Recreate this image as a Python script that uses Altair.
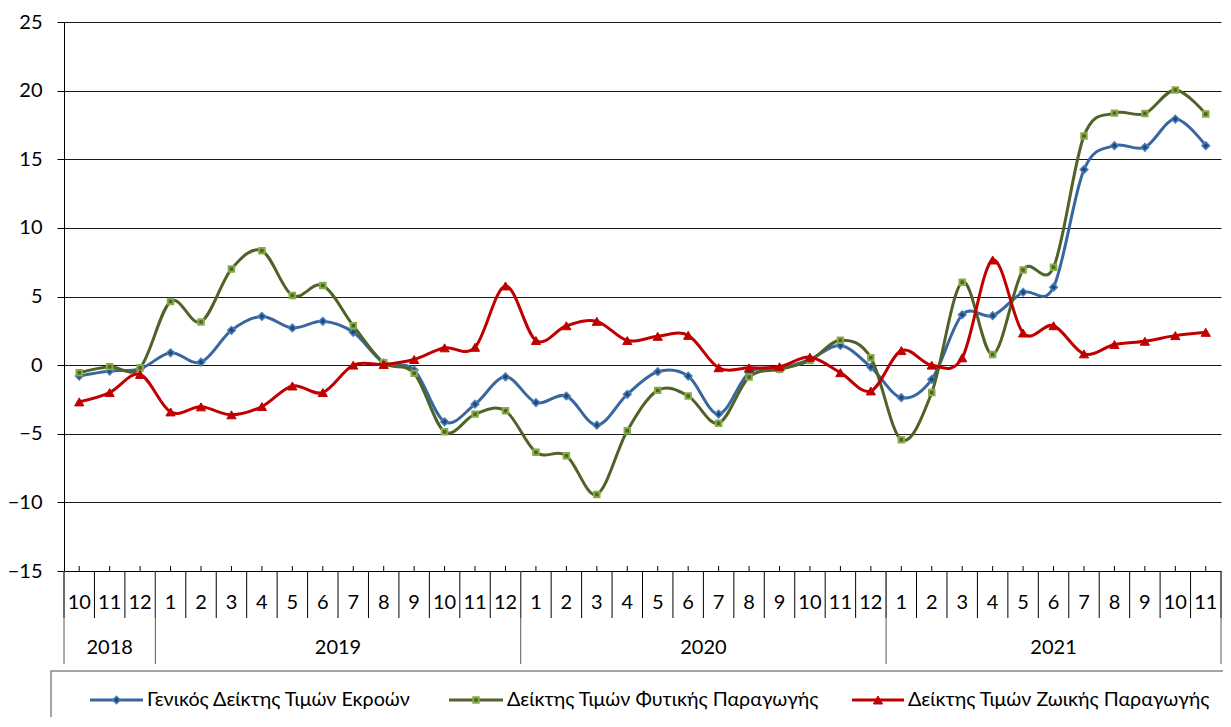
import altair as alt
import pandas as pd

# ---------------- data ----------------
months = ["10", "11", "12",
          "1", "2", "3", "4", "5", "6", "7", "8", "9", "10", "11", "12",
          "1", "2", "3", "4", "5", "6", "7", "8", "9", "10", "11", "12",
          "1", "2", "3", "4", "5", "6", "7", "8", "9", "10", "11"]
years = ["2018"] * 3 + ["2019"] * 12 + ["2020"] * 12 + ["2021"] * 11

series_names = ["Γενικός Δείκτης Τιμών Εκροών",
                "Δείκτης Τιμών Φυτικής Παραγωγής",
                "Δείκτης Τιμών Ζωικής Παραγωγής"]

general = [-0.80, -0.43, -0.27,
           0.90, 0.22, 2.54, 3.55, 2.71, 3.19, 2.39, 0.17, -0.36, -4.13, -2.85, -0.85,
           -2.73, -2.25, -4.37, -2.13, -0.48, -0.80, -3.57, -0.55, -0.27, 0.41, 1.43, -0.14,
           -2.37, -1.04, 3.67, 3.60, 5.31, 5.68, 14.25, 15.99, 15.87, 17.93, 15.99]
crop = [-0.55, -0.12, -0.19,
        4.64, 3.14, 7.00, 8.33, 5.07, 5.80, 2.87, 0.17, -0.60, -4.86, -3.57, -3.33,
        -6.35, -6.60, -9.42, -4.78, -1.84, -2.25, -4.23, -0.87, -0.31, 0.34, 1.81, 0.53,
        -5.43, -2.00, 6.04, 0.77, 6.93, 7.13, 16.70, 18.36, 18.33, 20.05, 18.30]
animal = [-2.68, -2.00, -0.68,
          -3.41, -3.04, -3.62, -3.02, -1.52, -2.00, 0.00, 0.05, 0.41, 1.26, 1.30, 5.77,
          1.79, 2.87, 3.19, 1.79, 2.10, 2.17, -0.19, -0.20, -0.12, 0.58, -0.55, -1.88,
          1.06, 0.00, 0.53, 7.66, 2.34, 2.87, 0.82, 1.50, 1.74, 2.15, 2.39]

y_ticks = [-15, -10, -5, 0, 5, 10, 15, 20, 25]

# ---------------- layout / style ----------------
W, H = 1157, 549
TOP = 14
FONT = "Lato"
n = len(months)
idx = list(range(n))

xs = alt.Scale(domain=[-0.5, n - 0.5], nice=False, zero=False)
ys = alt.Scale(domain=[-15, 25], nice=False, zero=False)

styles = [
    dict(line="#3867A0", shape="diamond", fill="#1F497D", stroke="#4A7EBB", size=58, sw=1.5),
    dict(line="#4F6228", shape="square", fill="#4F6228", stroke="#86AC46", size=30, sw=2),
    dict(line="#C00000", shape="triangle-up", fill="#C00000", stroke="#C00000", size=85, sw=1),
]
values_by_series = [general, crop, animal]

y_axis = alt.Axis(values=y_ticks, title=None, grid=True, gridColor="#1a1a1a", gridWidth=1,
                  domain=True, domainColor="#000000", domainWidth=1,
                  ticks=True, tickSize=7, tickColor="#000000", tickWidth=1,
                  labelFont=FONT, labelFontSize=20, labelColor="#000000", labelPadding=15)
x_axis = alt.Axis(title=None, grid=False, labels=False, ticks=False,
                  domain=True, domainColor="#000000", domainWidth=1)


def X(field):
    return alt.X(field, scale=xs, axis=x_axis, title=None)


def Y(field):
    return alt.Y(field, scale=ys, axis=y_axis, title=None)


# series lines + markers
series_layers = []
for i, name in enumerate(series_names):
    st = styles[i]
    df = pd.DataFrame({"idx": idx, "value": values_by_series[i], "series": name})
    series_layers.append(
        alt.Chart(df).mark_line(color=st["line"], strokeWidth=3, interpolate="cardinal").encode(
            x=X("idx:Q"), y=Y("value:Q"))
    )
    series_layers.append(
        alt.Chart(df).mark_point(shape=st["shape"], filled=True, fill=st["fill"], stroke=st["stroke"],
                                 strokeWidth=st["sw"], size=st["size"], opacity=1).encode(
            x=X("idx:Q"), y=Y("value:Q"))
    )

axis_layers = []
# month tick marks (small, inside) at category centres
ticks_df = pd.DataFrame({"idx": idx})
axis_layers.append(
    alt.Chart(ticks_df).mark_rule(color="#000000", strokeWidth=1).encode(
        x=X("idx:Q"), y=alt.value(H - 5), y2=alt.value(H))
)

# month separators
bounds_df = pd.DataFrame({"idx": [i - 0.5 for i in range(n + 1)]})
axis_layers.append(
    alt.Chart(bounds_df).mark_rule(color="#000000", strokeWidth=1).encode(
        x=X("idx:Q"), y=alt.value(H), y2=alt.value(H + 47))
)

# year separators
ybounds = [-0.5] + [i - 0.5 for i in range(1, n) if years[i] != years[i - 1]] + [n - 0.5]
ybounds_df = pd.DataFrame({"idx": ybounds})
axis_layers.append(
    alt.Chart(ybounds_df).mark_rule(color="#595959", strokeWidth=1).encode(
        x=X("idx:Q"), y=alt.value(H), y2=alt.value(H + 93))
)

# month labels
months_df = pd.DataFrame({"idx": idx, "m": months})
axis_layers.append(
    alt.Chart(months_df).mark_text(font=FONT, fontSize=20, color="#000000",
                                   align="center", baseline="middle").encode(
        x=X("idx:Q"), y=alt.value(H + 32), text="m:N")
)

# year labels
yr_df = pd.DataFrame({"idx": idx, "year": years}).groupby("year", as_index=False)["idx"].mean()
axis_layers.append(
    alt.Chart(yr_df).mark_text(font=FONT, fontSize=20, color="#000000",
                               align="center", baseline="middle").encode(
        x=X("idx:Q"), y=alt.value(H + 77), text="year:N")
)

layers = series_layers + axis_layers

# legend box
layers.append(
    alt.Chart(alt.Data(values=[{"k": 1}])).mark_rect(fill="#ffffff", stroke="#868686", strokeWidth=1.5).encode(
        x=alt.value(-13), x2=alt.value(1300), y=alt.value(H + 100), y2=alt.value(H + 190))
)

# legend entries
leg_x0 = [26, 385, 788]
leg_x1 = [79, 439, 840]
leg_tx = [83, 443, 844]
leg_y = H + 129
for i, name in enumerate(series_names):
    st = styles[i]
    d = alt.Data(values=[{"name": name}])
    layers.append(
        alt.Chart(d).mark_rule(color=st["line"], strokeWidth=3).encode(
            x=alt.value(leg_x0[i]), x2=alt.value(leg_x1[i]), y=alt.value(leg_y))
    )
    layers.append(
        alt.Chart(d).mark_point(shape=st["shape"], filled=True, fill=st["fill"], stroke=st["stroke"],
                                strokeWidth=st["sw"], size=st["size"], opacity=1).encode(
            x=alt.value((leg_x0[i] + leg_x1[i]) / 2), y=alt.value(leg_y))
    )
    layers.append(
        alt.Chart(d).mark_text(font=FONT, fontSize=19.7, color="#000000",
                               align="left", baseline="middle").encode(
            x=alt.value(leg_tx[i]), y=alt.value(leg_y), text="name:N")
    )

chart = alt.layer(*layers).properties(
    width=W, height=H,
    padding={"left": 56, "top": TOP, "right": 2, "bottom": 146},
    autosize=alt.AutoSizeParams(type="none"),
    background="#ffffff",
).configure_view(stroke=None)

chart.save("out.html", embed_options={"renderer": "svg", "actions": False})
